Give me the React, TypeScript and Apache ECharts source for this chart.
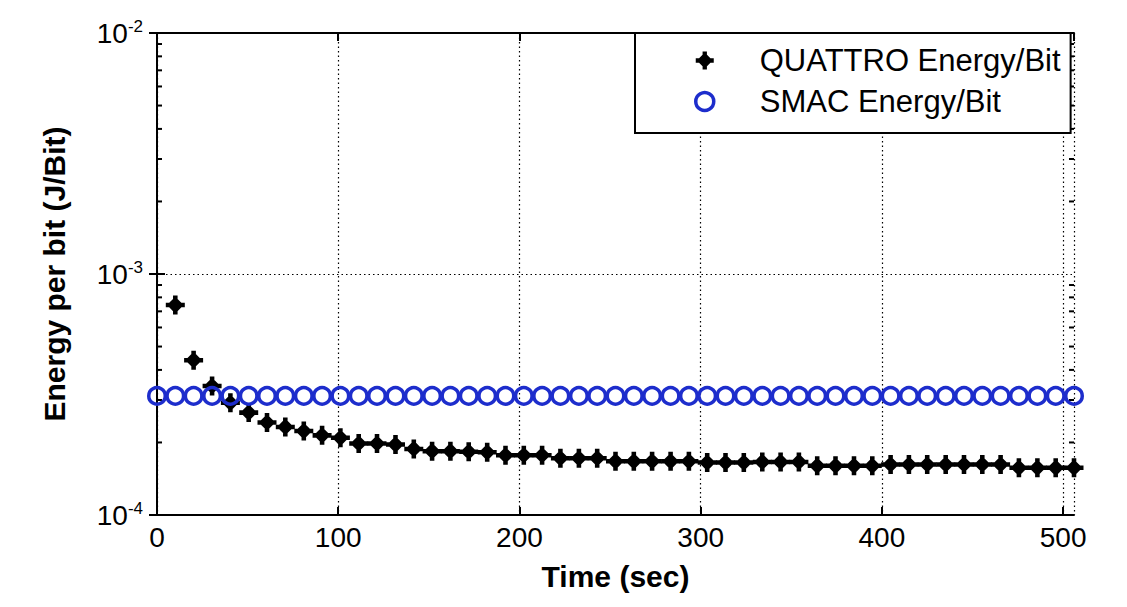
import React, { useEffect, useRef } from "react";
import * as echarts from "echarts";

// Time stamps (sec) of the samples
const times: number[] = [
  0, 10.1, 20.2, 30.4, 40.5, 50.6, 60.7, 70.8, 81.0, 91.1,
  101.2, 111.3, 121.4, 131.6, 141.7, 151.8, 161.9, 172.0, 182.2, 192.3,
  202.4, 212.5, 222.6, 232.8, 242.9, 253.0, 263.1, 273.2, 283.4, 293.5,
  303.6, 313.7, 323.8, 334.0, 344.1, 354.2, 364.3, 374.4, 384.6, 394.7,
  404.8, 414.9, 425.0, 435.2, 445.3, 455.4, 465.5, 475.6, 485.8, 495.9,
  506.0,
];

// QUATTRO energy per bit (J/Bit), from the second sample on
const quattroEnergy: number[] = [
  7.43e-4, 4.39e-4, 3.43e-4, 2.92e-4, 2.66e-4, 2.42e-4, 2.32e-4, 2.23e-4, 2.14e-4, 2.09e-4,
  1.98e-4, 1.98e-4, 1.96e-4, 1.88e-4, 1.84e-4, 1.84e-4, 1.83e-4, 1.82e-4, 1.77e-4, 1.77e-4,
  1.77e-4, 1.72e-4, 1.72e-4, 1.72e-4, 1.67e-4, 1.67e-4, 1.67e-4, 1.67e-4, 1.67e-4, 1.65e-4,
  1.65e-4, 1.65e-4, 1.66e-4, 1.66e-4, 1.66e-4, 1.60e-4, 1.60e-4, 1.60e-4, 1.60e-4, 1.62e-4,
  1.62e-4, 1.62e-4, 1.62e-4, 1.62e-4, 1.62e-4, 1.62e-4, 1.57e-4, 1.57e-4, 1.57e-4, 1.57e-4,
];

// SMAC energy per bit (J/Bit)
const smacEnergy: number[] = [
  3.12e-4, 3.12e-4, 3.12e-4, 3.12e-4, 3.12e-4, 3.12e-4, 3.12e-4, 3.12e-4, 3.12e-4, 3.12e-4,
  3.12e-4, 3.12e-4, 3.12e-4, 3.12e-4, 3.12e-4, 3.12e-4, 3.12e-4, 3.12e-4, 3.12e-4, 3.12e-4,
  3.12e-4, 3.12e-4, 3.12e-4, 3.12e-4, 3.12e-4, 3.12e-4, 3.12e-4, 3.12e-4, 3.12e-4, 3.12e-4,
  3.12e-4, 3.12e-4, 3.12e-4, 3.12e-4, 3.12e-4, 3.12e-4, 3.12e-4, 3.12e-4, 3.12e-4, 3.12e-4,
  3.12e-4, 3.12e-4, 3.12e-4, 3.12e-4, 3.12e-4, 3.12e-4, 3.12e-4, 3.12e-4, 3.12e-4, 3.12e-4,
  3.12e-4,
];

// Minor log ticks on the y axis
const yMinorTicks: number[] = [
  2e-4, 3e-4, 4e-4, 5e-4, 6e-4, 7e-4, 8e-4, 9e-4,
  2e-3, 3e-3, 4e-3, 5e-3, 6e-3, 7e-3, 8e-3, 9e-3,
];

const seriesNames = ["QUATTRO Energy/Bit", "SMAC Energy/Bit"];

const FONT = "Liberation Sans, Arial, Helvetica, sans-serif";
const BLUE = "#1d2dcc";
const DIAMOND_CROSS =
  "path://M10 1.2 L18.8 10 L10 18.8 L1.2 10 Z M0 7.6 L20 7.6 L20 12.4 L0 12.4 Z M7.6 0 L12.4 0 L12.4 20 L7.6 20 Z";

export default function App() {
  const ref = useRef<HTMLDivElement>(null);

  useEffect(() => {
    if (!ref.current) return;
    const chart = echarts.init(ref.current, undefined, { renderer: "svg" });

    const axisLine = { show: true, lineStyle: { color: "#000", width: 2 } };
    const tickInside = { show: true, inside: true, length: 8, lineStyle: { color: "#000", width: 2 } };
    const dotted = { show: true, lineStyle: { color: "#000", width: 1.2, type: [1.5, 3] as any } };

    const option: any = {
      animation: false,
      backgroundColor: "#fff",
      textStyle: { fontFamily: FONT },
      grid: { left: 157, right: 53, top: 33, bottom: 92, containLabel: false },
      legend: {
        orient: "vertical",
        left: 635,
        top: 33,
        padding: [12, 10, 16, 59],
        itemWidth: 100,
        itemHeight: 18,
        itemGap: 10,
        backgroundColor: "#fff",
        borderColor: "#000",
        borderWidth: 2,
        textStyle: { fontSize: 31, lineHeight: 30, color: "#000", fontFamily: FONT },
        data: [
          { name: seriesNames[0], icon: DIAMOND_CROSS, itemStyle: { color: "#000" } },
          {
            name: seriesNames[1],
            icon: "circle",
            itemStyle: { color: "rgba(0,0,0,0)", borderColor: BLUE, borderWidth: 3.5 },
          },
        ],
        selectedMode: false,
      },
      xAxis: [
        {
          type: "value",
          position: "bottom",
          min: 0,
          max: 506,
          interval: 100,
          axisLine,
          axisTick: tickInside,
          axisLabel: {
            show: true,
            fontSize: 28,
            color: "#000",
            margin: 8,
            fontFamily: FONT,
            showMaxLabel: false,
          },
          splitLine: dotted,
          name: "Time (sec)",
          nameLocation: "middle",
          nameGap: 46,
          nameTextStyle: { fontSize: 30, fontWeight: "bold", color: "#000", fontFamily: FONT },
        },
        {
          type: "value",
          position: "top",
          min: 0,
          max: 506,
          interval: 100,
          axisLine,
          axisTick: tickInside,
          axisLabel: { show: false },
          splitLine: { show: false },
        },
      ],
      yAxis: [
        {
          type: "log",
          logBase: 10,
          position: "left",
          min: 1e-4,
          max: 1e-2,
          axisLine,
          axisTick: tickInside,
          axisLabel: {
            show: true,
            margin: 14,
            color: "#000",
            formatter: (v: number) => `{b|10}{s|${Math.round(Math.log10(v))}}`,
            rich: {
              b: { fontSize: 28, lineHeight: 30, fontFamily: FONT, color: "#000" },
              s: { fontSize: 17, lineHeight: 17, verticalAlign: "top", fontFamily: FONT, color: "#000" },
            },
          },
          splitLine: dotted,
          name: "Energy per bit (J/Bit)",
          nameLocation: "middle",
          nameRotate: 90,
          nameGap: 88,
          nameTextStyle: { fontSize: 30, fontWeight: "bold", color: "#000", fontFamily: FONT },
        },
        {
          type: "log",
          logBase: 10,
          position: "right",
          min: 1e-4,
          max: 1e-2,
          axisLine,
          axisTick: tickInside,
          axisLabel: { show: false },
          splitLine: { show: false },
        },
      ],
      series: [
        {
          name: "yMinorTicks",
          type: "custom",
          silent: true,
          clip: false,
          xAxisIndex: 0,
          yAxisIndex: 0,
          data: yMinorTicks.map((v) => [0, v]),
          renderItem: (params: any, api: any) => {
            const y = api.coord([0, api.value(1)])[1];
            const cs = params.coordSys;
            return {
              type: "group",
              children: [
                { type: "line", shape: { x1: cs.x, y1: y, x2: cs.x + 5, y2: y }, style: { stroke: "#000", lineWidth: 2 } },
                {
                  type: "line",
                  shape: { x1: cs.x + cs.width, y1: y, x2: cs.x + cs.width - 5, y2: y },
                  style: { stroke: "#000", lineWidth: 2 },
                },
              ],
            };
          },
          z: 1,
        },
        {
          name: seriesNames[0],
          type: "scatter",
          symbol: DIAMOND_CROSS,
          symbolSize: 19,
          itemStyle: { color: "#000", opacity: 1 },
          data: quattroEnergy.map((v, i) => [times[i + 1], v]),
          z: 2,
        },
        {
          name: seriesNames[1],
          type: "scatter",
          symbol: "circle",
          symbolSize: 16.5,
          itemStyle: { color: "rgba(0,0,0,0)", borderColor: BLUE, borderWidth: 3.5, opacity: 1 },
          data: smacEnergy.map((v, i) => [times[i], v]),
          z: 3,
        },
      ],
    };

    chart.setOption(option);
    return () => chart.dispose();
  }, []);

  return (
    <div
      ref={ref}
      style={{ position: "absolute", left: 0, top: 0, width: 1127, height: 607, background: "#fff" }}
    />
  );
}
